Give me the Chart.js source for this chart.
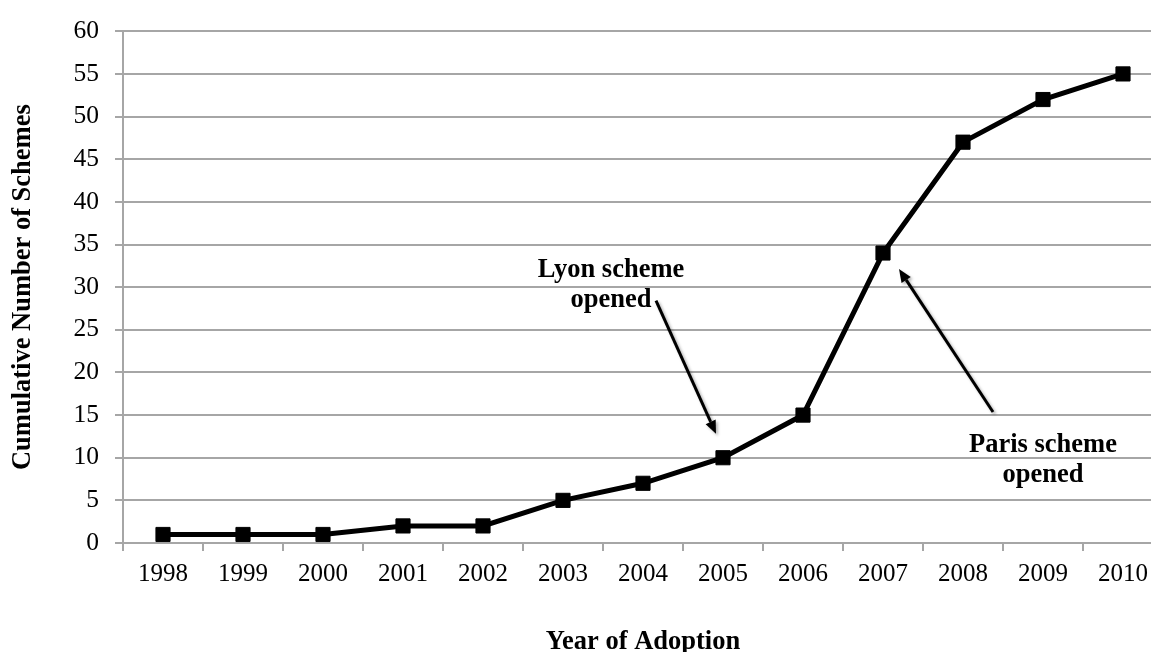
<!doctype html>
<html>
<head>
  <title>Cumulative Number of Schemes</title>
  <script src="https://cdn.jsdelivr.net/npm/chart.js@4/dist/chart.umd.min.js"></script>
  <style>
    html, body { margin: 0; padding: 0; overflow: hidden; background: #fff; }
    #container { width: 1174px; height: 652px; }
  </style>
</head>
<body>
  <div id="container">
    <canvas id="canvas" width="1174" height="652"></canvas>
  </div>
  <script>
  var years = ['1998', '1999', '2000', '2001', '2002', '2003', '2004', '2005', '2006', '2007', '2008', '2009', '2010'];
  var schemes = [1, 1, 1, 2, 2, 5, 7, 10, 15, 34, 47, 52, 55];
  var yTicks = [0, 5, 10, 15, 20, 25, 30, 35, 40, 45, 50, 55, 60];

  // callouts hang off a data point: year, then text lines
  var callouts = [
    {year: '2005', lines: ['Lyon scheme', 'opened'], textX: -112, textY: -181, from: [-67, -157], to: [-7, -24]},
    {year: '2007', lines: ['Paris scheme', 'opened'], textX: 160, textY: 199, from: [110, 159], to: [16, 16]}
  ];

  var serif = '"Liberation Serif", "Times New Roman", serif';
  var gridGrey = '#a6a6a6';

  function arrow(ctx, x1, y1, x2, y2) {
    var ang = Math.atan2(y2 - y1, x2 - x1);
    var head = 13, half = 5.5;
    var bx = x2 - Math.cos(ang) * head, by = y2 - Math.sin(ang) * head;
    ctx.beginPath();
    ctx.moveTo(x1, y1);
    ctx.lineTo(bx, by);
    ctx.stroke();
    ctx.beginPath();
    ctx.moveTo(x2, y2);
    ctx.lineTo(bx + Math.sin(ang) * half, by - Math.cos(ang) * half);
    ctx.lineTo(bx - Math.sin(ang) * half, by + Math.cos(ang) * half);
    ctx.closePath();
    ctx.fill();
  }

  var calloutPlugin = {
    id: 'callouts',
    afterDatasetsDraw: function(chart) {
      var ctx = chart.ctx;
      var xs = chart.scales.x, ys = chart.scales.y;
      callouts.forEach(function(c) {
        var i = years.indexOf(c.year);
        var px = xs.getPixelForValue(i), py = ys.getPixelForValue(schemes[i]);
        ctx.save();
        ctx.strokeStyle = '#000';
        ctx.fillStyle = '#000';
        ctx.lineWidth = 3;
        ctx.shadowColor = 'rgba(0,0,0,0.3)';
        ctx.shadowOffsetX = 2;
        ctx.shadowOffsetY = 2;
        ctx.shadowBlur = 3;
        arrow(ctx, px + c.from[0], py + c.from[1], px + c.to[0], py + c.to[1]);
        ctx.restore();

        ctx.save();
        ctx.fillStyle = '#000';
        ctx.font = 'bold 26.5px ' + serif;
        ctx.textAlign = 'center';
        ctx.textBaseline = 'alphabetic';
        c.lines.forEach(function(line, k) {
          ctx.fillText(line, px + c.textX, py + c.textY + k * 30);
        });
        ctx.restore();
      });
    }
  };

  window.onload = function() {
    var ctx = document.getElementById('canvas').getContext('2d');
    window.myLine = new Chart(ctx, {
      type: 'line',
      data: {
        labels: years,
        datasets: [{
          label: 'Cumulative Number of Schemes',
          data: schemes,
          borderColor: '#000',
          borderWidth: 5,
          tension: 0,
          pointStyle: 'rect',
          pointRadius: 10,
          pointBorderWidth: 1,
          pointBackgroundColor: '#000',
          pointBorderColor: '#000'
        }]
      },
      options: {
        responsive: false,
        devicePixelRatio: 1,
        animation: false,
        layout: { padding: { top: 26, right: 2, left: 0, bottom: 0 } },
        plugins: {
          legend: { display: false },
          tooltip: { enabled: false }
        },
        scales: {
          x: {
            offset: true,
            afterFit: function(scale) { scale.height = 109; },
            grid: {
              offset: true,
              drawOnChartArea: false,
              color: gridGrey,
              lineWidth: 2,
              tickLength: 8
            },
            border: { color: gridGrey, width: 2 },
            ticks: {
              color: '#000',
              padding: 8,
              maxRotation: 0,
              font: { family: serif, size: 25 }
            },
            title: {
              display: true,
              text: 'Year of Adoption',
              color: '#000',
              padding: { top: 0, bottom: 0 },
              font: { family: serif, size: 26.5, weight: 'bold', lineHeight: 0.75 }
            }
          },
          y: {
            min: 0,
            max: 60,
            afterFit: function(scale) { scale.width = 123; },
            afterBuildTicks: function(scale) {
              scale.ticks = yTicks.map(function(v) { return {value: v}; });
            },
            grid: {
              color: gridGrey,
              lineWidth: 2,
              tickLength: 8
            },
            border: { color: gridGrey, width: 2 },
            ticks: {
              color: '#000',
              padding: 16,
              font: { family: serif, size: 25.5 }
            },
            title: {
              display: true,
              text: 'Cumulative Number of Schemes',
              color: '#000',
              padding: { top: 10, bottom: 0 },
              font: { family: serif, size: 26.5, weight: 'bold', lineHeight: 1 }
            }
          }
        }
      },
      plugins: [calloutPlugin]
    });
  };
  </script>
</body>
</html>
